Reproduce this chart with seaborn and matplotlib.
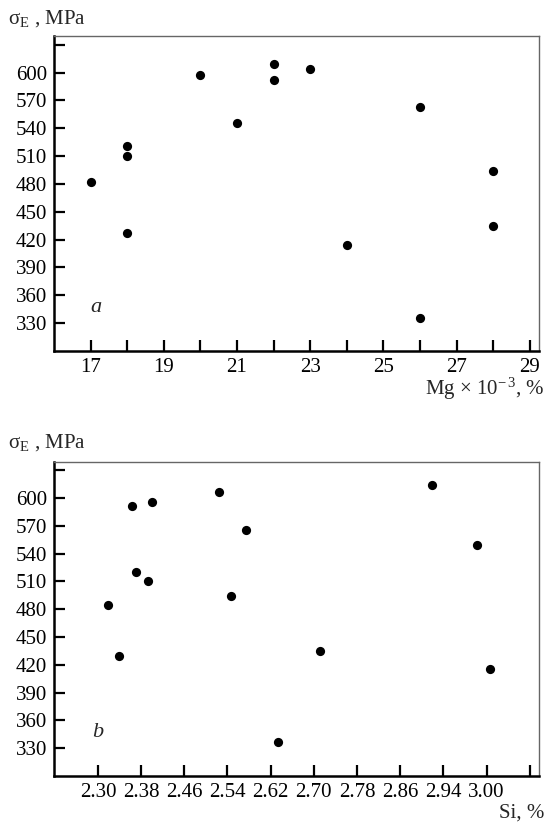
import numpy as np
import pandas as pd
import matplotlib
matplotlib.use("Agg")
import matplotlib.pyplot as plt
import seaborn as sns

# panel a: Mg content (x 10^-3 %) vs sigma_E (MPa)
mg = [17, 18, 18, 18, 20, 21, 22, 22, 23, 24, 26, 26, 28, 28]
sigma_mg = [482, 521, 510, 427, 597, 546, 609, 592, 604, 414, 563, 336, 494, 435]

# panel b: Si content (%) vs sigma_E (MPa)
si = [2.319, 2.340, 2.364, 2.371, 2.392, 2.400, 2.524, 2.546, 2.574,
      2.633, 2.711, 2.919, 3.003, 3.026]
sigma_si = [484, 430, 591, 520, 510, 596, 606, 494, 565,
            337, 435, 614, 549, 415]

y_ticks = list(range(330, 631, 30))
y_labels = [str(v) for v in y_ticks[:-1]] + [""]
mg_ticks = list(range(17, 30))
mg_labels = [str(v) if v % 2 else "" for v in mg_ticks]
si_ticks = [2.30, 2.38, 2.46, 2.54, 2.62, 2.70, 2.78, 2.86, 2.94, 3.02, 3.10]
si_labels = ["2.30", "2.38", "2.46", "2.54", "2.62", "2.70", "2.78", "2.86",
             "2.94", "3.00", ""]

sns.set_style("ticks")
plt.rcParams["font.family"] = ["Liberation Serif", "DejaVu Serif"]
plt.rcParams["mathtext.fontset"] = "custom"
plt.rcParams["mathtext.rm"] = "Liberation Serif"
plt.rcParams["mathtext.it"] = "Liberation Serif:italic"
plt.rcParams["font.size"] = 15

fig = plt.figure(figsize=(5.5, 8.26), dpi=100)
ax_a = fig.add_axes([0.098, 0.575, 0.882, 0.381])
ax_b = fig.add_axes([0.098, 0.0605, 0.882, 0.3805])

df_a = pd.DataFrame({"x": mg, "y": sigma_mg})
df_b = pd.DataFrame({"x": si, "y": sigma_si})

for ax, df, xt, xl, xlim, tag, tag_x in [
        (ax_a, df_a, mg_ticks, mg_labels, (16, 29.25), "a", 17.15),
        (ax_b, df_b, si_ticks, si_labels, (2.2185, 3.117), "b", 2.30)]:
    sns.scatterplot(data=df, x="x", y="y", ax=ax, color="black", s=44,
                    edgecolor="black", linewidth=0, legend=False)
    ax.set_xlim(*xlim)
    ax.set_ylim(300, 639)
    ax.set_xticks(xt)
    ax.set_xticklabels(xl)
    ax.set_yticks(y_ticks)
    ax.set_yticklabels(y_labels)
    ax.set_xlabel("")
    ax.set_ylabel("")
    ax.tick_params(direction="in", length=8, width=1.6, colors="black",
                   labelsize=15, pad=5)
    for side in ["left", "bottom"]:
        ax.spines[side].set_linewidth(1.8)
        ax.spines[side].set_color("black")
    for side in ["top", "right"]:
        ax.spines[side].set_visible(True)
        ax.spines[side].set_linewidth(1.0)
        ax.spines[side].set_color("#666666")
    ax.text(tag_x, 347, tag, fontsize=16, style="italic", ha="center",
            va="center")

fig.text(0.015, 0.978, "σ$_\\mathrm{E}$ , MPa", fontsize=15,
         ha="left", va="center")
fig.text(0.99, 0.529, "Mg × 10$^{-\\,3}$, %", fontsize=15,
         ha="right", va="center")
fig.text(0.015, 0.464, "σ$_\\mathrm{E}$ , MPa", fontsize=15,
         ha="left", va="center")
fig.text(0.99, 0.016, "Si, %", fontsize=15, ha="right", va="center")

fig.savefig("out.png", dpi=100)
